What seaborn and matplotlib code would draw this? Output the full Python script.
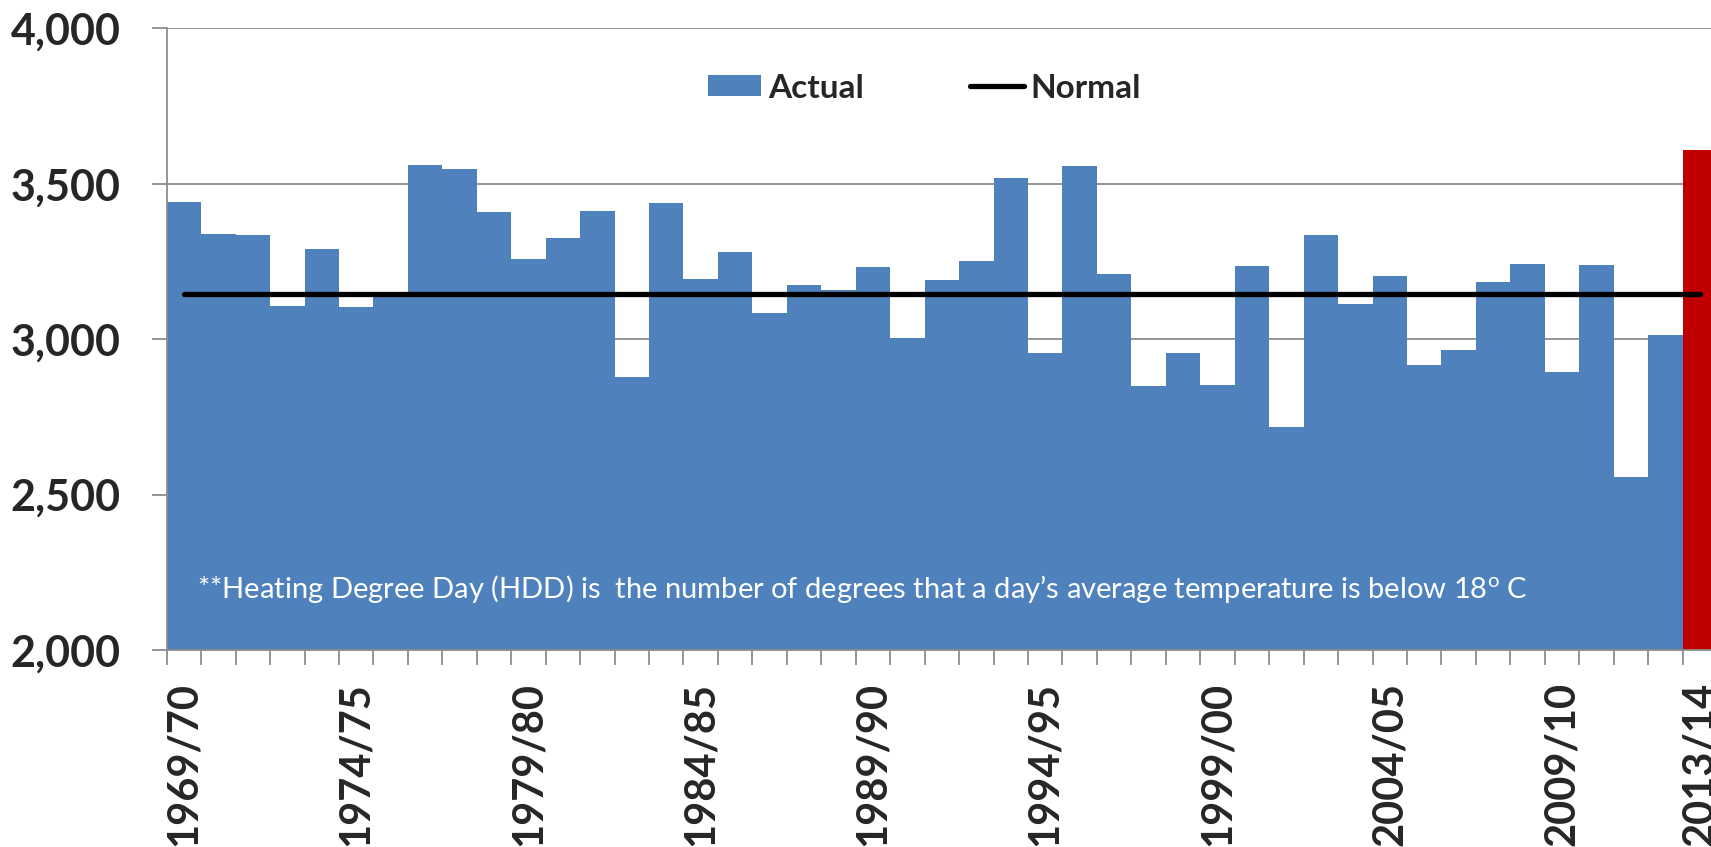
import numpy as np
import pandas as pd
import matplotlib
matplotlib.use("Agg")
import matplotlib.pyplot as plt
from matplotlib.patches import Patch
from matplotlib.lines import Line2D
import seaborn as sns

# Heating degree days per heating season
seasons = [f"{y}/{(y + 1) % 100:02d}" for y in range(1969, 2014)]
hdd_actual = [3440, 3337, 3336, 3107, 3290, 3104, 3150, 3561, 3549, 3410,
              3257, 3326, 3414, 2878, 3437, 3195, 3282, 3084, 3173, 3158,
              3234, 3005, 3189, 3253, 3518, 2955, 3556, 3211, 2851, 2957,
              2853, 3235, 2716, 3336, 3113, 3202, 2916, 2964, 3185, 3241,
              2896, 3240, 2557, 3014, 3608]
hdd_normal = 3147
labeled_seasons = ["1969/70", "1974/75", "1979/80", "1984/85", "1989/90",
                   "1994/95", "1999/00", "2004/05", "2009/10", "2013/14"]
y_ticks = [2000, 2500, 3000, 3500, 4000]

BLUE = "#4F81BD"
RED = "#C00000"
GREY = "#8c8c8c"

sns.set_style("white")
plt.rcParams["font.family"] = ["Lato", "DejaVu Sans"]
plt.rcParams["mathtext.fontset"] = "custom"
plt.rcParams["mathtext.rm"] = "Lato"
plt.rcParams["mathtext.default"] = "regular"

df = pd.DataFrame({"season": seasons, "hdd": hdd_actual})
bar_colors = [BLUE] * (len(seasons) - 1) + [RED]

fig = plt.figure(figsize=(17.11, 8.47), dpi=100)
ax = fig.add_axes([0.09743, 0.2326, 0.9061, 0.7338])

sns.barplot(data=df, x="season", y="hdd", hue="season", palette=bar_colors,
            legend=False, width=1.0, saturation=1, linewidth=0, ax=ax)

n = len(seasons)
positions = np.arange(n)
sns.lineplot(x=positions, y=np.full(n, hdd_normal), color="black",
             linewidth=3.8, solid_capstyle="round", ax=ax, zorder=5)

ax.set_xlim(-0.5, n - 0.5)
ax.set_ylim(y_ticks[0], y_ticks[-1])
ax.set_axisbelow(True)
ax.yaxis.grid(True, color=GREY, linewidth=1.3)
ax.xaxis.grid(False)

for side in ("top", "right"):
    ax.spines[side].set_visible(False)
for side in ("left", "bottom"):
    ax.spines[side].set_color(GREY)
    ax.spines[side].set_linewidth(1.3)

ax.set_yticks(y_ticks)
ax.set_yticklabels([f"{v:,}" for v in y_ticks], fontsize=31,
                   fontweight="bold", family="Lato")
ax.tick_params(axis="y", length=11, width=1.3, color=GREY, pad=22, left=True)

label_pos = [seasons.index(s) for s in labeled_seasons]
ax.set_xticks(label_pos)
ax.set_xticklabels(labeled_seasons, rotation=90, fontsize=30,
                   fontweight="bold", family="Lato")
ax.set_xticks(np.arange(n + 1) - 0.5, minor=True)
ax.tick_params(axis="x", which="major", length=0, pad=23)
ax.tick_params(axis="x", which="minor", length=11, width=1.3, color=GREY,
               bottom=True)
ax.set_xlabel("")
ax.set_ylabel("")

handles = [Patch(facecolor=BLUE, edgecolor="none"),
           Line2D([], [], color="black", linewidth=3.8, solid_capstyle="round")]
fig.legend(handles, ["Actual", "Normal"], loc="center",
           bbox_to_anchor=(0.5403, 0.896), ncol=2, frameon=False,
           prop=dict(family="Lato", weight="bold", size=24),
           handlelength=1.6, handletextpad=0.2, columnspacing=3.2,
           handleheight=0.6, borderpad=0)

fig.text(196.7 / 1711, 1 - 598 / 847,
         "**Heating Degree Day (HDD) is  the number of degrees that a day\u2019s "
         "average temperature is below 18$^{o}$ C",
         color="white", fontsize=21, family="Lato", va="baseline")

fig.savefig("out.png", dpi=100)
